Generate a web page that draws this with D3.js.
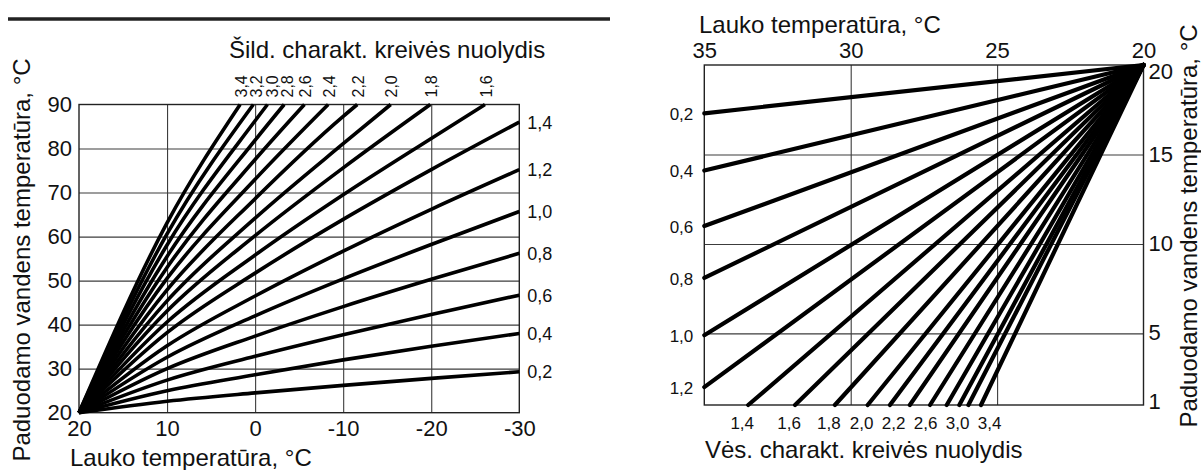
<!DOCTYPE html>
<html>
<head>
<meta charset="utf-8">
<script src="https://cdn.jsdelivr.net/npm/d3@7"></script>
<style>
  html, body { margin: 0; padding: 0; background: #fff; }
  svg { display: block; font-family: "Liberation Sans", Arial, sans-serif; }
</style>
</head>
<body>
<svg id="chart" width="1201" height="470"></svg>
<script>
// ---------- Heating curves (flow temperature vs outdoor temperature) ----------
const heatSlopes = [0.2, 0.4, 0.6, 0.8, 1.0, 1.2, 1.4, 1.6, 1.8, 2.0, 2.2, 2.4, 2.6, 2.8, 3.0, 3.2, 3.4];
const heatOutdoor = [20, 10, 0, -10, -20, -30];
// flow temperature at each outdoor temperature above, until the curve leaves the chart
const heatFlow = [
  [20, 22.6, 24.5, 26.2, 27.8, 29.3],
  [20, 25.0, 28.6, 32.0, 35.1, 38.0],
  [20, 27.4, 32.8, 37.7, 42.3, 46.7],
  [20, 30.0, 37.4, 44.1, 50.3, 56.2],
  [20, 32.6, 42.0, 50.4, 58.2, 65.7],
  [20, 35.2, 46.5, 56.7, 66.2, 75.2],
  [20, 38.2, 51.7, 63.9, 75.2, 86.0],
  [20, 40.6, 55.8, 69.5, 82.3],
  [20, 43.1, 60.2, 75.6],
  [20, 45.4, 64.2, 81.1],
  [20, 47.9, 68.6, 87.3],
  [20, 50.5, 73.0],
  [20, 53.0, 77.5],
  [20, 55.5, 81.9],
  [20, 58.1, 86.3],
  [20, 60.6],
  [20, 63.1]
];
// outdoor temperature where a steep curve reaches the 90 °C limit (null = runs to -30)
const heatTopOutdoor = [null, null, null, null, null, null, null,
  -26.1, -19.9, -15.4, -11.6, -8.3, -5.6, -3.3, -1.4, 0.2, 1.7];
const heatXTicks = [20, 10, 0, -10, -20, -30];
const heatYTicks = [20, 30, 40, 50, 60, 70, 80, 90];

// ---------- Cooling curves ----------
const coolSlopes = [0.2, 0.4, 0.6, 0.8, 1.0, 1.2, 1.4, 1.6, 1.8, 2.0, 2.2, 2.4, 2.6, 2.8, 3.0, 3.2, 3.4];
const coolEndOutdoor = [35, 35, 35, 35, 35, 35, 33.50, 31.90, 30.54, 29.42, 28.66, 27.98, 27.29, 26.72, 26.29, 25.98, 25.55];
const coolEndFlow = [17.3, 14.1, 11.0, 8.1, 4.9, 2.0, 1, 1, 1, 1, 1, 1, 1, 1, 1, 1, 1];
const coolBottomLabels = [1.4, 1.6, 1.8, 2.0, 2.2, 2.6, 3.0, 3.4];
const coolXTicks = [35, 30, 25, 20];
const coolYTicks = [20, 15, 10, 5, 1];

// ---------- helpers ----------
const lt = d3.formatLocale({ decimal: ",", thousands: " ", grouping: [3], currency: ["", " €"], minus: "-" });
const fmtSlope = lt.format(".1f");
const fmtInt = lt.format("d");
const INK = "#111";
const GRID = "#3c3c3c";
const FONT = "Liberation Sans, Arial, sans-serif";

function spread(xs, gap) {
  const out = xs.slice();
  for (let i = 1; i < out.length; i++) out[i] = Math.max(out[i], out[i - 1] + gap);
  return out;
}

const svg = d3.select("#chart");

// ======================= Heating chart =======================
const hx = d3.scaleLinear().domain([20, -30]).range([79, 519.3]);
const hy = d3.scaleLinear().domain([20, 90]).range([412.7, 104.5]);
const H = svg.append("g");

// rule above the chart
H.append("line").attr("x1", 8).attr("x2", 610).attr("y1", 19).attr("y2", 19)
  .attr("stroke", "#222").attr("stroke-width", 3.5);

// grid
H.append("g").attr("transform", `translate(0,${hy(20)})`)
  .call(d3.axisBottom(hx).tickValues(heatXTicks.slice(1, -1)).tickSize(-(hy(20) - hy(90))).tickFormat(""))
  .call(g => g.select(".domain").remove())
  .selectAll("line").attr("stroke", GRID).attr("stroke-width", 1.1);
H.append("g").attr("transform", `translate(${hx(20)},0)`)
  .call(d3.axisLeft(hy).tickValues(heatYTicks.slice(1, -1)).tickSize(-(hx(-30) - hx(20))).tickFormat(""))
  .call(g => g.select(".domain").remove())
  .selectAll("line").attr("stroke", GRID).attr("stroke-width", 1.1);

// frame
H.append("rect").attr("x", hx(20)).attr("y", hy(90))
  .attr("width", hx(-30) - hx(20)).attr("height", hy(20) - hy(90))
  .attr("fill", "none").attr("stroke", "#222").attr("stroke-width", 1.4);

// axis labels
H.append("g").attr("transform", `translate(${hx(20)},0)`)
  .call(d3.axisLeft(hy).tickValues(heatYTicks).tickSize(0).tickPadding(7).tickFormat(fmtInt))
  .call(g => g.select(".domain").remove())
  .call(g => g.selectAll("text").attr("font-size", 22).attr("fill", INK).attr("font-family", FONT));
H.append("g").attr("transform", `translate(0,${hy(20)})`)
  .call(d3.axisBottom(hx).tickValues(heatXTicks).tickSize(0).tickPadding(8).tickFormat(fmtInt))
  .call(g => g.select(".domain").remove())
  .call(g => g.selectAll("text").attr("font-size", 22).attr("fill", INK).attr("font-family", FONT));

// curves
const heatLine = d3.line().x(d => hx(d[0])).y(d => hy(d[1])).curve(d3.curveMonotoneX);
const heatPts = heatFlow.map((row, i) => {
  const pts = row.map((v, j) => [heatOutdoor[j], v]);
  if (heatTopOutdoor[i] !== null) pts.push([heatTopOutdoor[i], hy.domain()[1]]);
  return pts;
});
H.append("g").selectAll("path").data(heatPts).join("path")
  .attr("d", heatLine).attr("fill", "none").attr("stroke", "#000")
  .attr("stroke-width", 3.6).attr("stroke-linejoin", "round");

// slope labels on the right edge
heatSlopes.forEach((s, i) => {
  if (heatTopOutdoor[i] !== null) return;
  const row = heatFlow[i];
  H.append("text").attr("x", hx(-30) + 8).attr("y", hy(row[row.length - 1]))
    .attr("dy", "0.36em").attr("font-size", 18).attr("fill", INK).text(fmtSlope(s));
});

// slope labels above the top edge (rotated)
const topIdx = heatSlopes.map((s, i) => i).filter(i => heatTopOutdoor[i] !== null)
  .sort((a, b) => hx(heatTopOutdoor[a]) - hx(heatTopOutdoor[b]));
const topX = spread(topIdx.map(i => hx(heatTopOutdoor[i]) + 1), 15.5);
topIdx.forEach((i, k) => {
  H.append("text").attr("transform", `translate(${topX[k]},${hy(90) - 7}) rotate(-90)`)
    .attr("dy", "0.36em").attr("font-size", 16).attr("fill", INK).text(fmtSlope(heatSlopes[i]));
});

// titles
H.append("text").attr("x", 229).attr("y", 58).attr("font-size", 24).attr("fill", INK)
  .text("Šild. charakt. kreivės nuolydis");
H.append("text").attr("x", 70).attr("y", 466).attr("font-size", 24).attr("fill", INK)
  .text("Lauko temperatūra, °C");
H.append("text").attr("transform", "translate(30,260) rotate(-90)")
  .attr("text-anchor", "middle").attr("font-size", 24).attr("fill", INK)
  .text("Paduodamo vandens temperatūra, °C");

// ======================= Cooling chart =======================
const cx = d3.scaleLinear().domain([35, 20]).range([704.3, 1143.5]);
const cy = d3.scaleLinear().domain([1, 20]).range([405, 65]);
const C = svg.append("g");

// grid
C.append("g").attr("transform", `translate(0,${cy(1)})`)
  .call(d3.axisBottom(cx).tickValues(coolXTicks.slice(1, -1)).tickSize(-(cy(1) - cy(20))).tickFormat(""))
  .call(g => g.select(".domain").remove())
  .selectAll("line").attr("stroke", GRID).attr("stroke-width", 1.1);
C.append("g").attr("transform", `translate(${cx(35)},0)`)
  .call(d3.axisLeft(cy).tickValues(coolYTicks.slice(1, -1)).tickSize(-(cx(20) - cx(35))).tickFormat(""))
  .call(g => g.select(".domain").remove())
  .selectAll("line").attr("stroke", GRID).attr("stroke-width", 1.1);

// frame
C.append("rect").attr("x", cx(35)).attr("y", cy(20))
  .attr("width", cx(20) - cx(35)).attr("height", cy(1) - cy(20))
  .attr("fill", "none").attr("stroke", "#222").attr("stroke-width", 1.4);

// axis labels: outdoor on top, flow on the right
C.append("g").attr("transform", `translate(0,${cy(20)})`)
  .call(d3.axisTop(cx).tickValues(coolXTicks).tickSize(0).tickPadding(7).tickFormat(fmtInt))
  .call(g => g.select(".domain").remove())
  .call(g => g.selectAll("text").attr("font-size", 22).attr("fill", INK).attr("font-family", FONT));
C.append("g").attr("transform", `translate(${cx(20)},0)`)
  .call(d3.axisRight(cy).tickValues(coolYTicks).tickSize(0).tickPadding(5).tickFormat(fmtInt))
  .call(g => g.select(".domain").remove())
  .call(g => g.selectAll(".tick").attr("transform", d =>
    `translate(0,${Math.min(Math.max(cy(d), cy(20) + 7), cy(1) - 3)})`))
  .call(g => g.selectAll("text").attr("font-size", 22).attr("fill", INK).attr("font-family", FONT));

// lines
const coolLine = d3.line().x(d => cx(d[0])).y(d => cy(d[1]));
const coolPts = coolSlopes.map((s, i) => [[20, 20], [coolEndOutdoor[i], coolEndFlow[i]]]);
C.append("g").selectAll("path").data(coolPts).join("path")
  .attr("d", coolLine).attr("fill", "none").attr("stroke", "#000")
  .attr("stroke-width", 4.2).attr("stroke-linecap", "round");

// slope labels on the left edge
coolSlopes.forEach((s, i) => {
  if (coolEndOutdoor[i] !== cx.domain()[0]) return;
  C.append("text").attr("x", cx(35) - 11).attr("y", cy(coolEndFlow[i]))
    .attr("dy", "0.4em").attr("text-anchor", "end").attr("font-size", 17).attr("fill", INK)
    .text(fmtSlope(s));
});

// slope labels under the bottom edge
const botX = spread(coolBottomLabels.map(s => cx(coolEndOutdoor[coolSlopes.indexOf(s)]) - 6), 32);
coolBottomLabels.forEach((s, k) => {
  C.append("text").attr("x", botX[k]).attr("y", cy(1) + 24)
    .attr("text-anchor", "middle").attr("font-size", 17).attr("fill", INK).text(fmtSlope(s));
});

// titles
C.append("text").attr("x", 699).attr("y", 33).attr("font-size", 24).attr("fill", INK)
  .text("Lauko temperatūra, °C");
C.append("text").attr("x", 705).attr("y", 458).attr("font-size", 24).attr("fill", INK)
  .text("Vės. charakt. kreivės nuolydis");
C.append("text").attr("transform", "translate(1197,226) rotate(-90)")
  .attr("text-anchor", "middle").attr("font-size", 24).attr("fill", INK)
  .text("Paduodamo vandens temperatūra, °C");
</script>
</body>
</html>
